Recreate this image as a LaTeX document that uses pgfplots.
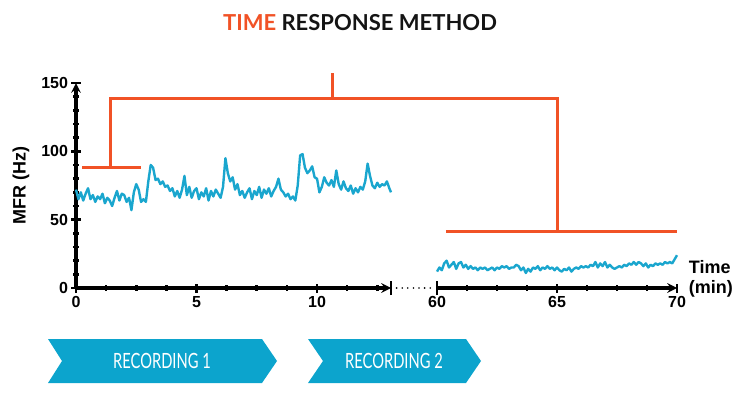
\documentclass[border=0pt]{standalone}
\usepackage{fontspec}
\setmainfont{Lato}
\newfontfamily\axisfont{Liberation Sans}
\usepackage{pgfplots}
\pgfplotsset{compat=1.18}
\definecolor{trace}{RGB}{26,166,206}
\definecolor{banner}{RGB}{12,164,205}
\definecolor{bracket}{RGB}{241,82,38}
\definecolor{titleblack}{RGB}{20,20,20}
\pgfplotsset{mystyle/.style={
  scale only axis, height=205pt, ymin=0, ymax=150, clip=false,
  axis line style={-, line width=3.2pt, black},
  x axis line style={-, line width=3.2pt, black},
  y axis line style={-, line width=3.2pt, black},
  tick align=outside, major tick length=9pt, minor tick length=5.5pt,
  major tick style={black, line width=2.6pt},
  minor tick style={black, line width=2.6pt},
  tick label style={font=\axisfont\bfseries\fontsize{16}{16}\selectfont},
  /pgf/number format/assume math mode=true,
}}
\begin{document}
\begin{tikzpicture}[x=1pt,y=1pt]
\path (0,0) rectangle (746,394);
\node[font=\bfseries\fontsize{22}{22}\selectfont, text=titleblack] at (360,371) {\textcolor{bracket}{TIME} RESPONSE METHOD};

\begin{axis}[mystyle, at={(76pt,106pt)}, anchor=south west, width=315pt,
  xmin=0, xmax=13.07, axis x line=bottom, axis y line=left,
  xtick={0,5,10}, minor xtick={1.25,2.5,3.75,6.25,7.5,8.75,11.25,12.5},
  ytick={0,50,100,150}, minor ytick={10,20,30,40,60,70,80,90,110,120,130,140},
  ylabel={MFR (Hz)},
  ylabel style={at={(axis description cs:-0.175,0.5)}, anchor=center, font=\axisfont\bfseries\fontsize{18}{18}\selectfont},
]
\addplot[trace, line width=2.4pt, line join=round] table {
x y
0.0 72
0.1 65
0.2 70
0.3 64
0.4 69
0.5 73
0.6 65
0.7 68
0.8 63
0.9 67
1.0 65
1.1 69
1.2 62
1.3 66
1.4 64
1.5 60
1.6 66
1.7 71
1.8 64
1.9 69
2.0 68
2.1 63
2.2 66
2.3 57
2.4 70
2.5 76
2.6 72
2.7 63
2.8 65
2.9 63
3.0 78
3.1 90
3.2 88
3.3 79
3.4 80
3.5 76
3.6 78
3.7 74
3.8 75
3.9 71
4.0 73
4.1 67
4.2 71
4.3 66
4.4 72
4.5 82
4.6 68
4.7 74
4.8 66
4.9 71
5.0 73
5.1 65
5.2 70
5.3 67
5.4 73
5.5 64
5.6 71
5.7 67
5.8 72
5.9 69
6.0 66
6.1 74
6.2 95
6.3 84
6.4 78
6.5 81
6.6 72
6.7 76
6.8 68
6.9 71
7.0 66
7.1 70
7.2 73
7.3 65
7.4 71
7.5 68
7.6 74
7.7 66
7.8 72
7.9 69
8.0 73
8.1 67
8.2 71
8.3 74
8.4 80
8.5 72
8.6 70
8.7 67
8.8 69
8.9 65
9.0 67
9.1 64
9.2 75
9.3 97
9.4 98
9.5 88
9.6 84
9.7 86
9.8 89
9.9 81
10.0 80
10.1 70
10.2 74
10.3 81
10.4 77
10.5 75
10.6 79
10.7 74
10.8 86
10.9 76
11.0 72
11.1 78
11.2 73
11.3 71
11.4 75
11.5 69
11.6 73
11.7 70
11.8 74
11.9 72
12.0 78
12.1 91
12.2 82
12.3 75
12.4 73
12.5 77
12.6 74
12.7 76
12.8 75
12.9 78
13.0 73
13.07 70
};
\draw[black, line width=2.6pt] (axis cs:13.07,0) ++(0pt,-7pt) -- ++(0pt,14pt);
\coordinate (e1) at (axis cs:13.07,0);
\coordinate (h1a) at (axis cs:0.25,88.5);
\coordinate (h1b) at (axis cs:2.7,88.5);
\coordinate (v1b) at (axis cs:1.45,88.5);
\coordinate (v1t) at (axis cs:1.45,139);
\coordinate (v2b) at (axis cs:10.66,139);
\coordinate (v2t) at (axis cs:10.66,157.3);
\end{axis}

\begin{axis}[mystyle, at={(437pt,106pt)}, anchor=south west, width=240pt,
  xmin=60, xmax=70, axis x line=bottom, axis y line=none, ytick=\empty,
  xtick={60,65,70}, minor xtick={61.25,62.5,63.75,66.25,67.5,68.75},
]
\addplot[trace, line width=2.4pt, line join=round] table {
x y
60.0 12
60.1 15
60.2 13
60.3 18
60.4 20
60.5 15
60.6 17
60.7 19
60.8 14
60.9 18
61.0 19
61.1 15
61.2 17
61.3 14
61.4 16
61.5 14
61.6 15
61.7 13
61.8 15
61.9 14
62.0 15
62.1 13
62.2 14
62.3 15
62.4 13
62.5 15
62.6 14
62.7 16
62.8 15
62.9 16
63.0 14
63.1 15
63.2 15
63.3 17
63.4 16
63.5 13
63.6 15
63.7 11
63.8 14
63.9 12
64.0 15
64.1 14
64.2 16
64.3 13
64.4 15
64.5 14
64.6 16
64.7 14
64.8 15
64.9 13
65.0 15
65.1 13
65.2 12
65.3 14
65.4 13
65.5 15
65.6 12
65.7 14
65.8 15
65.9 14
66.0 16
66.1 15
66.2 16
66.3 15
66.4 17
66.5 16
66.6 19
66.7 15
66.8 18
66.9 16
67.0 19
67.1 15
67.2 17
67.3 15
67.4 14
67.5 15
67.6 16
67.7 15
67.8 17
67.9 16
68.0 18
68.1 17
68.2 19
68.3 17
68.4 19
68.5 18
68.6 16
68.7 18
68.8 15
68.9 17
69.0 16
69.1 18
69.2 17
69.3 18
69.4 17
69.5 19
69.6 18
69.7 19
69.8 18
69.9 21
70.0 24
};
\draw[black, line width=2.6pt] (axis cs:60,0) ++(0pt,-7pt) -- ++(0pt,14pt);
\coordinate (s2) at (axis cs:60,0);
\coordinate (v3t) at (axis cs:65,139);
\coordinate (v3b) at (axis cs:65,41.7);
\coordinate (h3a) at (axis cs:60.37,41.7);
\coordinate (h3b) at (axis cs:70,41.7);
\node[anchor=west, align=left, font=\axisfont\bfseries\fontsize{18}{20}\selectfont] at (axis cs:70.35,7) {Time\\(min)};
\end{axis}

\draw[black, line width=1.8pt, line cap=round, dash pattern=on 0pt off 5.6pt, shorten <=5.6pt, shorten >=4pt] (e1) -- (s2);

\begin{scope}[bracket, line width=3pt]
\draw (h1a) -- (h1b);
\draw (v1b) -- (v1t) -- (v3t) -- (v3b);
\draw (v2b) -- (v2t);
\draw (h3a) -- (h3b);
\end{scope}

\fill[banner] (48,55) -- (262,55) -- (277,33) -- (262,11) -- (48,11) -- (62,33) -- cycle;
\fill[banner] (308,55) -- (466,55) -- (481,33) -- (466,11) -- (308,11) -- (323,33) -- cycle;
\node[text=white, font=\fontsize{21}{21}\selectfont, xscale=0.7] at (162,33) {RECORDING 1};
\node[text=white, font=\fontsize{21}{21}\selectfont, xscale=0.7] at (394,33) {RECORDING 2};
\end{tikzpicture}
\end{document}
